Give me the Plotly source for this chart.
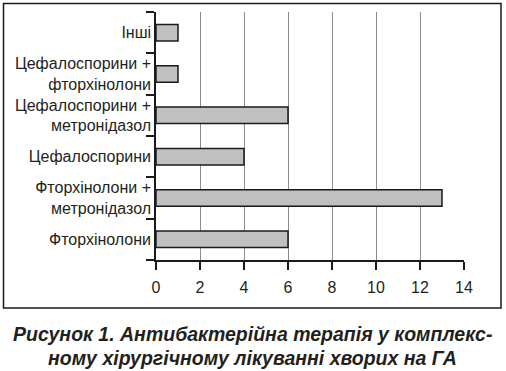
import plotly.graph_objects as go

categories = ["Фторхінолони", "Фторхінолони +<br>метронідазол", "Цефалоспорини",
              "Цефалоспорини +<br>метронідазол", "Цефалоспорини +<br>фторхінолони", "Інші"]
values = [6, 13, 4, 6, 1, 1]
x_ticks = [0, 2, 4, 6, 8, 10, 12, 14]
caption_lines = ["Рисунок 1. Антибактерійна терапія у комплекс-",
                 "ному хірургічному лікуванні хворих на ГА"]

FONT = "Liberation Sans, Arial, sans-serif"
W, H = 506, 371
L, R, T, B = 156, 506 - 464, 12, 371 - 260
pw, ph = W - L - R, H - T - B

fig = go.Figure(go.Bar(
    y=categories, x=values, orientation="h",
    marker=dict(color="#c0c0c0", line=dict(color="#1a1a1a", width=1.5)),
    width=0.4,
))

fig.update_layout(
    width=W, height=H,
    margin=dict(l=L, r=R, t=T, b=B, pad=0),
    paper_bgcolor="white", plot_bgcolor="white",
    showlegend=False,
    font=dict(family=FONT, size=16, color="#231f20"),
    xaxis=dict(range=[0, 14], tickvals=x_ticks, showgrid=True, gridcolor="#8c8c8c",
               gridwidth=1.3, zeroline=False, showline=True, linecolor="#1a1a1a", linewidth=1.5,
               ticks="outside", ticklen=8, tickwidth=1.5, tickcolor="#1a1a1a",
               tickfont=dict(size=16), ticklabelstandoff=4, automargin=False, fixedrange=True),
    yaxis=dict(type="category", tickson="boundaries", showgrid=False, zeroline=False,
               showline=True, linecolor="#1a1a1a", linewidth=1.5,
               ticks="outside", ticklen=8, tickwidth=1.5, tickcolor="#1a1a1a",
               tickfont=dict(size=16), ticklabelstandoff=0, automargin=False, fixedrange=True),
)

# outer frame
def px_x(p):
    return (p - L) / pw
def px_y(p):
    return (H - B - p) / ph

fig.add_shape(type="rect", xref="paper", yref="paper",
              x0=px_x(3.5), x1=px_x(501), y0=px_y(308), y1=px_y(3.5),
              line=dict(color="#1a1a1a", width=1.5), fillcolor="rgba(0,0,0,0)", layer="below")

for i, (txt, ypix) in enumerate(zip(caption_lines, [334, 358])):
    fig.add_annotation(text="<b><i>" + txt + "</i></b>", xref="paper", yref="paper",
                       x=px_x(252), y=px_y(ypix), showarrow=False, xanchor="center", yanchor="middle",
                       font=dict(family="Liberation Sans, Arial, sans-serif", size=19.5, color="#231f20"))

fig.write_html("out.html", config={"displayModeBar": False},
               post_script="document.body.style.margin='0';document.body.style.overflow='hidden';")
